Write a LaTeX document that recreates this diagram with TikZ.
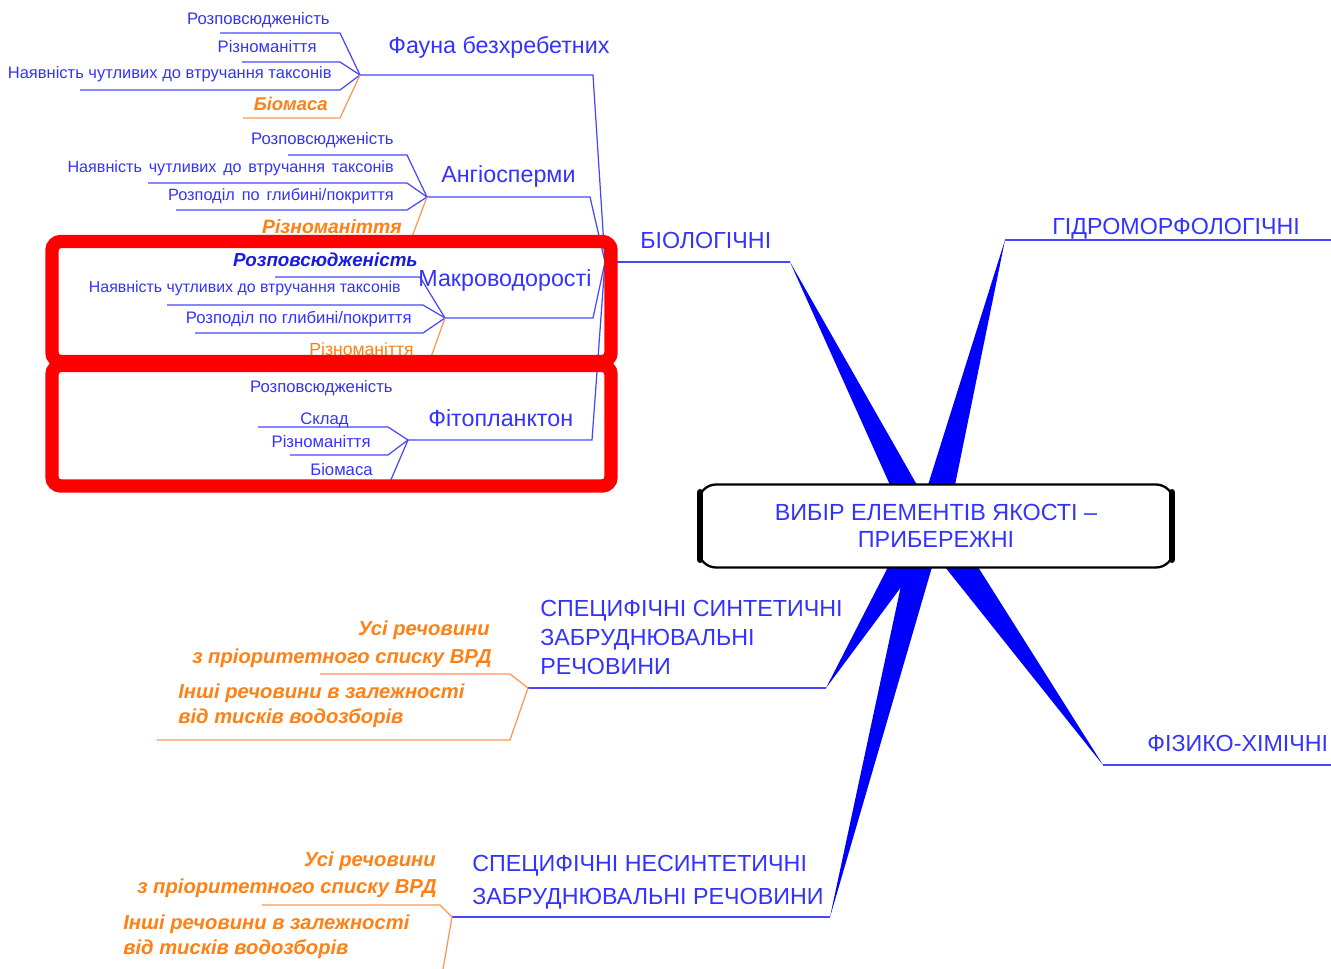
\documentclass[tikz,border=0pt]{standalone}
\usepackage{fontspec}
\setmainfont{Liberation Sans}
\definecolor{tblue}{RGB}{51,51,255}
\definecolor{dblue}{RGB}{25,25,225}
\definecolor{lblue}{RGB}{70,70,255}
\definecolor{wblue}{RGB}{0,0,255}
\definecolor{torange}{RGB}{255,128,20}
\definecolor{lorange}{RGB}{255,150,80}
\definecolor{rbox}{RGB}{255,0,0}
\newcommand{\wsp}{\hskip 0.42em}
\begin{document}
\begin{tikzpicture}[x=0.02cm,y=-0.02cm,
 sm/.style={font=\fontsize{9.5}{11}\selectfont, text=tblue, inner sep=0},
 cat/.style={font=\fontsize{13.25}{15}\selectfont, text=tblue, inner sep=0},
 orb/.style={font=\fontsize{11.5}{14}\selectfont\bfseries\itshape, text=torange, inner sep=0},
 ors/.style={font=\fontsize{10.5}{12}\selectfont\bfseries\itshape, text=torange, inner sep=0},
 bl/.style={draw=lblue, line width=0.7pt},
 ol/.style={draw=lorange, line width=0.7pt},
 wedge/.style={fill=wblue},
 redbox/.style={draw=rbox, line width=7.6pt, rounded corners=5pt}
]
\useasboundingbox (0,0) rectangle (1331,969);

% ---------- junction coordinates ----------
\coordinate (jB) at (605,262);
\coordinate (tB) at (790,262);
\coordinate (tH) at (1005,240);
\coordinate (eH) at (1331,240);
\coordinate (tP) at (1103,765);
\coordinate (eP) at (1331,765);
\coordinate (tS) at (826,688);
\coordinate (jS) at (528,688);
\coordinate (tN) at (830,917);
\coordinate (jN) at (452,917);
\coordinate (jF) at (360,75);
\coordinate (kF) at (593,75);
\coordinate (jA) at (427,197);
\coordinate (kA) at (590,197);
\coordinate (jM) at (445,318);
\coordinate (kM) at (593,318);
\coordinate (jPh) at (408,440);
\coordinate (kPh) at (592,440);

% ---------- wedges ----------
\fill[wedge] (tB) -- (890,485) -- (917,485) -- cycle;
\fill[wedge] (tH) -- (928,485) -- (955,485) -- cycle;
\fill[wedge] (tP) -- (945,567) -- (978,567) -- cycle;
\fill[wedge] (tS) -- (888,567) -- (916,567) -- cycle;
\fill[wedge] (tN) -- (905,567) -- (932,567) -- cycle;

% ---------- central box ----------
\node (center) [draw=black, line width=1.3pt, rounded corners=10pt, fill=white,
  minimum width=9.5cm, minimum height=1.66cm, inner sep=0,
  font=\fontsize{13.3}{15.5}\selectfont, text=tblue, align=center]
  at (936,526) {ВИБІР ЕЛЕМЕНТІВ ЯКОСТІ –\\ПРИБЕРЕЖНІ};
\draw[line width=3.6pt, line cap=round] ([xshift=1.6pt,yshift=-5pt]center.north west) -- ([xshift=1.6pt,yshift=5pt]center.south west);
\draw[line width=3.6pt, line cap=round] ([xshift=-1.6pt,yshift=-5pt]center.north east) -- ([xshift=-1.6pt,yshift=5pt]center.south east);

% ---------- main categories ----------
\node (bio) [cat, anchor=base west] at (640,249) {БІОЛОГІЧНІ};
\draw[bl] (jB) -- (tB);
\node (hydro) [cat, anchor=base west] at (1052,235) {ГІДРОМОРФОЛОГІЧНІ};
\draw[bl] (tH) -- (eH);
\node (phys) [cat, anchor=base west] at (1147,751) {ФІЗИКО-ХІМІЧНІ};
\draw[bl] (tP) -- (eP);

% ---------- Fauna ----------
\node (fauna) [cat, anchor=base west] at (388,54) {Фауна безхребетних};
\draw[bl] (jF) -- (kF) -- (jB);
\node (f1) [sm, anchor=base east] at (330,25) {Розповсюдженість};
\node (f2) [sm, anchor=base east] at (317,53) {Різноманіття};
\node (f3) [sm, font=\fontsize{9.4}{11}\selectfont, anchor=base east] at (332,79) {Наявність чутливих до втручання таксонів};
\node (f4) [ors, anchor=base east] at (328,111) {Біомаса};
\coordinate (f1a) at (220,33); \coordinate (f1b) at (340,33);
\coordinate (f2a) at (242,62); \coordinate (f2b) at (340,62);
\coordinate (f3a) at (80,90);  \coordinate (f3b) at (340,90);
\coordinate (f4a) at (243,118); \coordinate (f4b) at (340,118);
\draw[bl] (f1a) -- (f1b) -- (jF);
\draw[bl] (f2a) -- (f2b) -- (jF);
\draw[bl] (f3a) -- (f3b) -- (jF);
\draw[ol] (f4a) -- (f4b) -- (jF);

% ---------- Angiosperms ----------
\node (angio) [cat, anchor=base west] at (441,183) {Ангіосперми};
\draw[bl] (jA) -- (kA) -- (jB);
\node (a1) [sm, anchor=base east] at (394,145) {Розповсюдженість};
\node (a2) [sm, font=\fontsize{9.2}{11}\selectfont, anchor=base east] at (394,173) {Наявність\wsp чутливих\wsp до\wsp втручання\wsp таксонів};
\node (a3) [sm, font=\fontsize{9.3}{11}\selectfont, anchor=base east] at (394,201) {Розподіл\wsp по\wsp глибині/покриття};
\node (a4) [ors, font=\fontsize{11}{13}\selectfont\bfseries\itshape, anchor=base east] at (402,234) {Різноманіття};
\coordinate (a1a) at (288,155); \coordinate (a1b) at (407,155);
\coordinate (a2a) at (148,183); \coordinate (a2b) at (407,183);
\coordinate (a3a) at (176,210); \coordinate (a3b) at (407,210);
\coordinate (a4b) at (410,242);
\draw[bl] (a1a) -- (a1b) -- (jA);
\draw[bl] (a2a) -- (a2b) -- (jA);
\draw[bl] (a3a) -- (a3b) -- (jA);
\draw[ol] (a4b) -- (jA);

% ---------- Macroalgae ----------
\draw[bl] (jM) -- (kM) -- (jB);
\node (m1) [font=\fontsize{10.7}{13}\selectfont\bfseries\itshape, text=dblue, inner sep=0, anchor=base east] at (418,267) {Розповсюдженість};
\coordinate (m1a) at (275,277); \coordinate (m1b) at (420,277);
\draw[bl] (m1a) -- (m1b) -- (jM);
\node (macro) [cat, anchor=base west] at (418,287) {Макроводорості};
\node (m2) [sm, font=\fontsize{9.05}{11}\selectfont, anchor=base east] at (401,293) {Наявність чутливих до втручання таксонів};
\node (m3) [sm, anchor=base east] at (412,323) {Розподіл по глибині/покриття};
\node (m4) [font=\fontsize{10}{12}\selectfont, text=torange, inner sep=0, anchor=base east] at (414,356) {Різноманіття};
\coordinate (m2a) at (167,305); \coordinate (m2b) at (423,305);
\coordinate (m3a) at (195,333); \coordinate (m3b) at (423,333);
\coordinate (m4b) at (430,360);
\draw[bl] (m2a) -- (m2b) -- (jM);
\draw[bl] (m3a) -- (m3b) -- (jM);
\draw[ol] (m4b) -- (jM);

% ---------- Phytoplankton ----------
\node (phyto) [cat, anchor=base west] at (428,426) {Фітопланктон};
\draw[bl] (jPh) -- (kPh) -- (jB);
\node (p1) [sm, anchor=base east] at (393,392) {Розповсюдженість};
\node (p2) [sm, anchor=base east] at (349,424) {Склад};
\node (p3) [sm, anchor=base east] at (371,447) {Різноманіття};
\node (p4) [sm, anchor=base east] at (373,475) {Біомаса};
\coordinate (p2a) at (258,427); \coordinate (p2b) at (388,427);
\coordinate (p3a) at (290,455); \coordinate (p3b) at (388,455);
\coordinate (p4b) at (390,482);
\draw[bl] (p2a) -- (p2b) -- (jPh);
\draw[bl] (p3a) -- (p3b) -- (jPh);
\draw[bl] (p4b) -- (jPh);

% ---------- red frames ----------
\draw[redbox] (52,241.5) rectangle (611,361.5);
\draw[redbox] (52,365.5) rectangle (611,486);

% ---------- synthetic ----------
\node (synth) [cat, anchor=base west] at (540,616) {СПЕЦИФІЧНІ СИНТЕТИЧНІ};
\node (synth2) [cat, anchor=base west] at (540,645) {ЗАБРУДНЮВАЛЬНІ};
\node (synth3) [cat, anchor=base west] at (540,674) {РЕЧОВИНИ};
\draw[bl] (jS) -- (tS);
\node (s1) [orb, anchor=base east] at (490,635) {Усі речовини};
\node (s1b) [orb, anchor=base east] at (492,663) {з пріоритетного списку ВРД};
\node (s2) [orb, anchor=base west] at (178,698) {Інші речовини в залежності};
\node (s2b) [orb, anchor=base west] at (178,723) {від тисків водозборів};
\coordinate (s1a) at (320,674); \coordinate (s1c) at (510,674);
\coordinate (s2a) at (157,740); \coordinate (s2c) at (510,740);
\draw[ol] (s1a) -- (s1c) -- (jS);
\draw[ol] (s2a) -- (s2c) -- (jS);

% ---------- non-synthetic ----------
\node (nons) [cat, anchor=base west] at (472,871) {СПЕЦИФІЧНІ НЕСИНТЕТИЧНІ};
\node (nons2) [cat, anchor=base west] at (472,904) {ЗАБРУДНЮВАЛЬНІ РЕЧОВИНИ};
\draw[bl] (jN) -- (tN);
\node (n1) [orb, anchor=base east] at (436,866) {Усі речовини};
\node (n1b) [orb, anchor=base east] at (437,893) {з пріоритетного списку ВРД};
\node (n2) [orb, anchor=base west] at (123,929) {Інші речовини в залежності};
\node (n2b) [orb, anchor=base west] at (123,954) {від тисків водозборів};
\coordinate (n1a) at (262,905); \coordinate (n1c) at (440,905);
\coordinate (n2c) at (443,969);
\draw[ol] (n1a) -- (n1c) -- (jN);
\draw[ol] (n2c) -- (jN);
\end{tikzpicture}
\end{document}
